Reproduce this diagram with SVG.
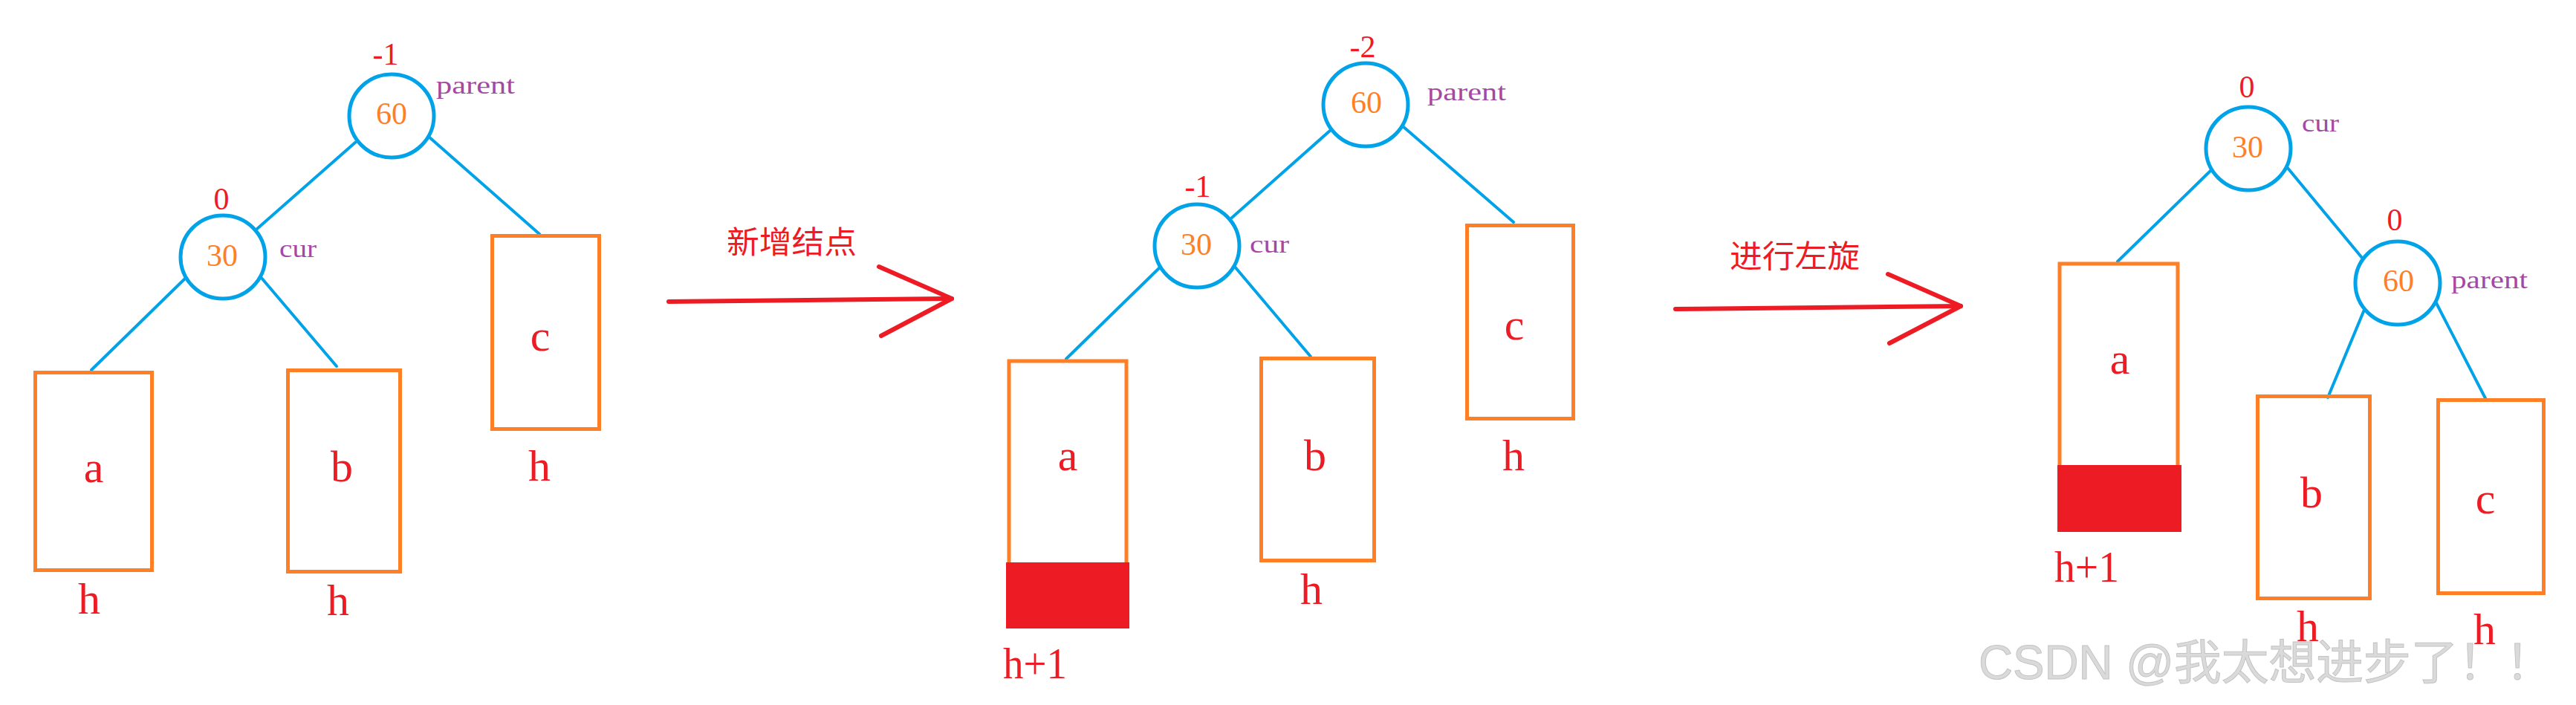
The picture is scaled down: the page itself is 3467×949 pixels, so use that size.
<svg xmlns="http://www.w3.org/2000/svg" width="3467" height="949" viewBox="0 0 3467 949">
<style>
.bg{fill:#ffffff}
.node{fill:none;stroke:#00A2E8;stroke-width:5}
.box{fill:none;stroke:#FF7F27;stroke-width:5}
.fillred{fill:#ED1C24}
.edge{stroke:#00A2E8;stroke-width:4;fill:none;stroke-linecap:round}
.arrow{stroke:#ED1C24;stroke-width:6;fill:none;stroke-linecap:round;stroke-linejoin:round}
.num{font-family:"Liberation Serif",serif;font-size:42px;fill:#FF7F27;text-anchor:middle}
.bf{font-family:"Liberation Serif",serif;font-size:42px;fill:#ED1C24;text-anchor:middle}
.tag{font-family:"Liberation Serif",serif;font-size:34px;fill:#A349A4}
.lbl{font-family:"Liberation Serif",serif;font-size:60px;fill:#ED1C24;text-anchor:middle}
.lbls{font-family:"Liberation Serif",serif;font-size:60px;fill:#ED1C24}
.cjk{font-family:"Noto Sans CJK SC",sans-serif;font-size:42px;fill:#ED1C24}
.wm{font-family:"Liberation Sans","Noto Sans CJK SC",sans-serif;font-size:64px;fill:#dadada;stroke:#c4c4c4;stroke-width:1}
</style>
<rect class="bg" x="0" y="0" width="3467" height="949"/>

<g id="connectors">
  <line class="edge" x1="479" y1="191" x2="346" y2="308"/>
  <line class="edge" x1="577" y1="184" x2="726" y2="315"/>
  <line class="edge" x1="249" y1="375" x2="123" y2="498"/>
  <line class="edge" x1="351" y1="373" x2="453" y2="493"/>
  <line class="edge" x1="1791" y1="175" x2="1658" y2="293"/>
  <line class="edge" x1="1888" y1="170" x2="2037" y2="299"/>
  <line class="edge" x1="1561" y1="360" x2="1435" y2="483"/>
  <line class="edge" x1="1661" y1="358" x2="1764" y2="480"/>
  <line class="edge" x1="2976" y1="229" x2="2850" y2="352"/>
  <line class="edge" x1="3078" y1="225" x2="3179" y2="347"/>
  <line class="edge" x1="3182" y1="417" x2="3133" y2="535"/>
  <line class="edge" x1="3279" y1="408" x2="3346" y2="538"/>
</g>

<!-- Panel 1 -->
<g id="p1-n60">
  <ellipse class="node" cx="527" cy="156" rx="57" ry="56"/>
  <text class="num" x="527" y="167">60</text>
  <text class="bf" x="519" y="87">-1</text>
  <text class="tag" x="587" y="126" textLength="106" lengthAdjust="spacingAndGlyphs">parent</text>
</g>
<g id="p1-n30">
  <ellipse class="node" cx="300" cy="346" rx="57" ry="56"/>
  <text class="num" x="299" y="358">30</text>
  <text class="bf" x="298" y="282">0</text>
  <text class="tag" x="376" y="346" textLength="50" lengthAdjust="spacingAndGlyphs">cur</text>
</g>
<g id="p1-a">
  <rect class="box" x="47.5" y="501.5" width="157" height="266"/>
  <text class="lbl" x="126" y="649">a</text>
  <text class="lbl" x="120" y="826">h</text>
</g>
<g id="p1-b">
  <rect class="box" x="387.5" y="498.5" width="151" height="271"/>
  <text class="lbl" x="460" y="648">b</text>
  <text class="lbl" x="455" y="828">h</text>
</g>
<g id="p1-c">
  <rect class="box" x="662.5" y="317.5" width="144" height="260"/>
  <text class="lbl" x="727" y="472">c</text>
  <text class="lbl" x="726" y="647">h</text>
</g>

<!-- Arrow 1 -->
<g id="arrow1">
  <line class="arrow" x1="900" y1="406" x2="1281" y2="402"/>
  <polyline class="arrow" points="1183,359 1281,402 1186,452"/>
  <text class="cjk" x="978" y="341" textLength="175" lengthAdjust="spacingAndGlyphs">新增结点</text>
</g>

<!-- Panel 2 -->
<g id="p2-n60">
  <ellipse class="node" cx="1838" cy="141" rx="57" ry="56"/>
  <text class="num" x="1839" y="152">60</text>
  <text class="bf" x="1834" y="77">-2</text>
  <text class="tag" x="1921" y="135" textLength="106" lengthAdjust="spacingAndGlyphs">parent</text>
</g>
<g id="p2-n30">
  <ellipse class="node" cx="1611" cy="331" rx="57" ry="56"/>
  <text class="num" x="1610" y="343">30</text>
  <text class="bf" x="1612" y="265">-1</text>
  <text class="tag" x="1682" y="340" textLength="53" lengthAdjust="spacingAndGlyphs">cur</text>
</g>
<g id="p2-a">
  <rect class="box" x="1358" y="486" width="158" height="300"/>
  <rect class="fillred" x="1354" y="757" width="166" height="89"/>
  <text class="lbl" x="1437" y="633">a</text>
  <text class="lbls" x="1350" y="913" textLength="86" lengthAdjust="spacingAndGlyphs">h+1</text>
</g>
<g id="p2-b">
  <rect class="box" x="1697.5" y="482.5" width="152" height="272"/>
  <text class="lbl" x="1770" y="633">b</text>
  <text class="lbl" x="1765" y="813">h</text>
</g>
<g id="p2-c">
  <rect class="box" x="1974.5" y="303.5" width="143" height="260"/>
  <text class="lbl" x="2038" y="457">c</text>
  <text class="lbl" x="2037" y="633">h</text>
</g>

<!-- Arrow 2 -->
<g id="arrow2">
  <line class="arrow" x1="2255" y1="416" x2="2639" y2="412"/>
  <polyline class="arrow" points="2541,369 2639,412 2543,462"/>
  <text class="cjk" x="2328" y="360" textLength="175" lengthAdjust="spacingAndGlyphs">进行左旋</text>
</g>

<!-- Panel 3 -->
<g id="p3-n30">
  <ellipse class="node" cx="3026" cy="200" rx="57" ry="56"/>
  <text class="num" x="3025" y="212">30</text>
  <text class="bf" x="3024" y="131">0</text>
  <text class="tag" x="3098" y="177" textLength="50" lengthAdjust="spacingAndGlyphs">cur</text>
</g>
<g id="p3-n60">
  <ellipse class="node" cx="3227" cy="381" rx="57" ry="56"/>
  <text class="num" x="3228" y="392">60</text>
  <text class="bf" x="3223" y="310">0</text>
  <text class="tag" x="3299" y="388" textLength="103" lengthAdjust="spacingAndGlyphs">parent</text>
</g>
<g id="p3-a">
  <rect class="box" x="2772" y="355" width="159" height="300"/>
  <rect class="fillred" x="2769" y="626" width="167" height="90"/>
  <text class="lbl" x="2853" y="503">a</text>
  <text class="lbls" x="2765" y="783" textLength="87" lengthAdjust="spacingAndGlyphs">h+1</text>
</g>
<g id="p3-b">
  <rect class="box" x="3038.5" y="533.5" width="151" height="272"/>
  <text class="lbl" x="3111" y="683">b</text>
  <text class="lbl" x="3106" y="863">h</text>
</g>
<g id="p3-c">
  <rect class="box" x="3281.5" y="538.5" width="142" height="260"/>
  <text class="lbl" x="3345" y="691">c</text>
  <text class="lbl" x="3344" y="867">h</text>
</g>

<text class="wm" x="2663" y="914" textLength="773" lengthAdjust="spacingAndGlyphs">CSDN @我太想进步了！！</text>
</svg>
